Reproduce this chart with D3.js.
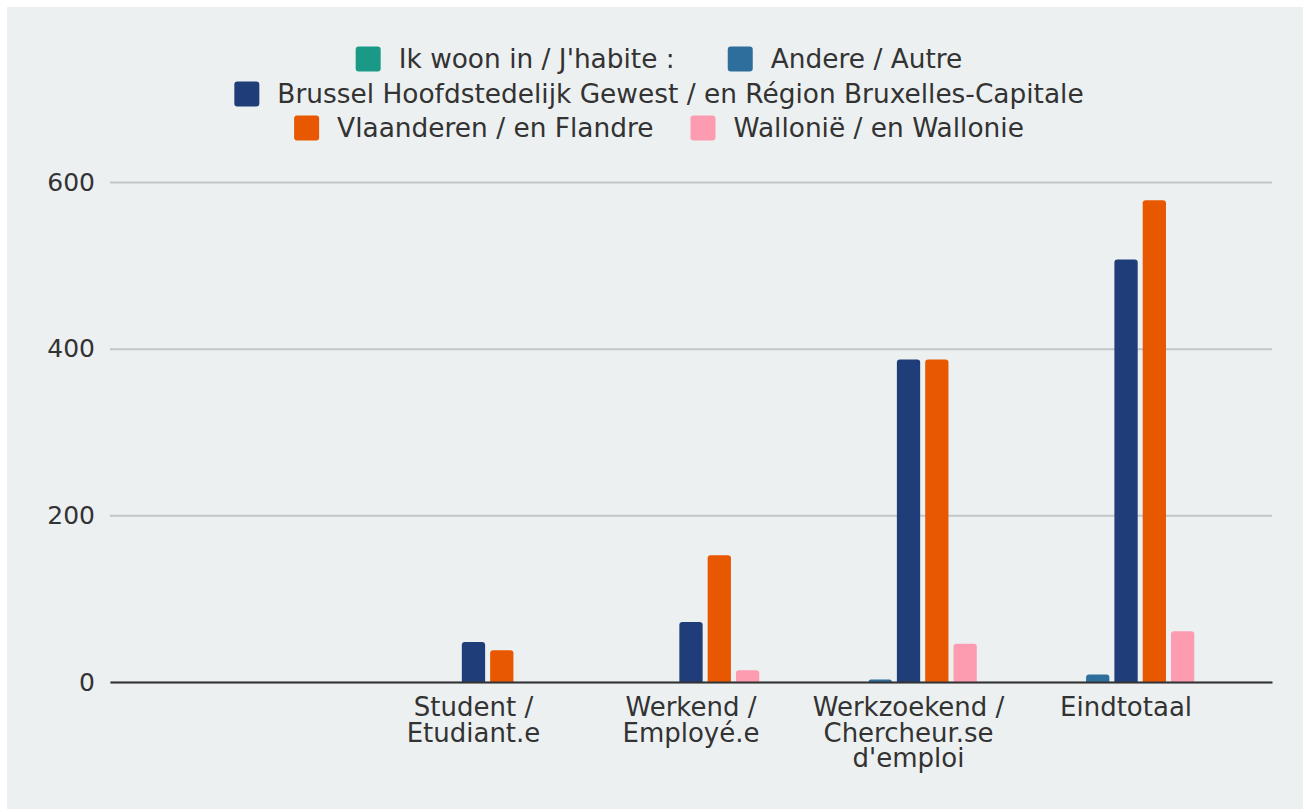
<!DOCTYPE html>
<html>
<head>
<meta charset="utf-8">
<script src="https://cdn.jsdelivr.net/npm/d3@7"></script>
<style>
  body { margin: 0; background: #ffffff; }
  svg { display: block; font-family: "DejaVu Sans", Verdana, sans-serif; }
</style>
</head>
<body>
<svg id="chart"></svg>
<script>
// categories (first one is the empty header column), "\n" = line break
let categories = ['', 'Student /\nEtudiant.e', 'Werkend /\nEmployé.e', 'Werkzoekend /\nChercheur.se\nd\'emploi', 'Eindtotaal']

let seriesNames = [
    'Ik woon in / J\'habite :',
    'Andere / Autre',
    'Brussel Hoofdstedelijk Gewest / en Région Bruxelles-Capitale',
    'Vlaanderen / en Flandre',
    'Wallonië / en Wallonie'
]

let ikWoonIn = [0, 0, 0, 0, 0]
let andere = [0, 0, 0, 3, 9]
let brussel = [0, 48, 72, 387, 507]
let vlaanderen = [0, 38, 152, 387, 578]
let wallonie = [0, 0, 14, 46, 61]

let yTicks = [0, 200, 400, 600]

let colors = ['#1a9a86', '#2e6e9c', '#1f3d78', '#e85800', '#fd9bb0']

let width = 1303
let height = 810
let plotLeft = 110
let plotRight = 1272
let plotTop = 182
let plotBottom = 682
let fontFamily = '"DejaVu Sans", Verdana, sans-serif'

let seriesValues = [ikWoonIn, andere, brussel, vlaanderen, wallonie]

let svg = d3.select('#chart')
    .attr('width', width)
    .attr('height', height)

svg.append('rect')
    .attr('x', 7)
    .attr('y', 7)
    .attr('width', width - 7)
    .attr('height', 802)
    .attr('fill', '#ecf0f1')

let xScale = d3.scaleBand()
    .domain(categories)
    .range([plotLeft, plotRight])
    .paddingInner(0)
    .paddingOuter(0.171)

let groupWidth = 141.5
let innerScale = d3.scaleBand()
    .domain(seriesNames)
    .range([-groupWidth / 2, groupWidth / 2])
    .paddingInner(0.177)
    .paddingOuter(0.0885)

let yScale = d3.scaleLinear()
    .domain([0, 600])
    .range([plotBottom, plotTop])

// gridlines + tick labels
let yAxis = d3.axisLeft(yScale)
    .tickValues(yTicks)
    .tickSize(-(plotRight - plotLeft))
    .tickPadding(15)

let yG = svg.append('g')
    .attr('transform', 'translate(' + plotLeft + ', 0)')
    .call(yAxis)
    .attr('font-family', fontFamily)

yG.select('.domain').remove()
yG.selectAll('.tick line')
    .attr('stroke', '#c2c6c8')
    .attr('stroke-width', 2)
yG.selectAll('.tick text')
    .attr('fill', '#333333')
    .attr('font-size', 25)

// bars with rounded top corners
let barPath = (x, y0, w, h) => {
    let r = Math.min(3, h, w / 2)
    return 'M' + x + ',' + y0 +
        'V' + (y0 - h + r) +
        'Q' + x + ',' + (y0 - h) + ' ' + (x + r) + ',' + (y0 - h) +
        'H' + (x + w - r) +
        'Q' + (x + w) + ',' + (y0 - h) + ' ' + (x + w) + ',' + (y0 - h + r) +
        'V' + y0 + 'Z'
}

let barData = []
seriesValues.forEach((vals, s) => {
    vals.forEach((v, c) => {
        if (v > 0) barData.push({ series: seriesNames[s], idx: s, cat: categories[c], value: v })
    })
})

svg.append('g')
    .selectAll('path')
    .data(barData)
    .enter()
    .append('path')
    .attr('d', (d) => {
        let x = xScale(d.cat) + xScale.bandwidth() / 2 + innerScale(d.series)
        let h = yScale(0) - yScale(d.value)
        return barPath(x, yScale(0), innerScale.bandwidth(), h)
    })
    .attr('fill', (d) => colors[d.idx])

// x axis
let xAxis = d3.axisBottom(xScale).tickSize(0).tickFormat('')
let xG = svg.append('g')
    .attr('transform', 'translate(0, ' + plotBottom + ')')
    .call(xAxis)
    .attr('font-family', fontFamily)
xG.select('.domain')
    .attr('stroke', '#333333')
    .attr('stroke-width', 2)

xG.selectAll('.tick').each(function(d) {
    let lines = d.split('\n')
    let t = d3.select(this).append('text')
        .attr('fill', '#333333')
        .attr('font-size', 26)
        .attr('text-anchor', 'middle')
    lines.forEach((line, i) => {
        t.append('tspan')
            .attr('x', 0)
            .attr('y', 34 + i * 25.5)
            .text(line)
    })
})

// legend
let legendRows = [[0, 1], [2], [3, 4]]
let legendGaps = [53, 37, 37]
let legendCenter = 659
let legendY = [59, 94, 128]
let legendFont = 26.4

let legend = svg.append('g').attr('font-size', legendFont)

legendRows.forEach((row, r) => {
    let rowG = legend.append('g')
    let x = 0
    row.forEach((s, k) => {
        if (k > 0) x += legendGaps[r]
        rowG.append('rect')
            .attr('x', x)
            .attr('y', legendY[r] - 12.5)
            .attr('width', 25)
            .attr('height', 25)
            .attr('rx', 3)
            .attr('fill', colors[s])
        let txt = rowG.append('text')
            .attr('x', x + 43)
            .attr('y', legendY[r])
            .attr('dy', '0.35em')
            .attr('fill', '#333333')
            .text(seriesNames[s])
        x += 43 + txt.node().getComputedTextLength()
    })
    rowG.attr('transform', 'translate(' + (legendCenter - x / 2) + ', 0)')
})
</script>
</body>
</html>
